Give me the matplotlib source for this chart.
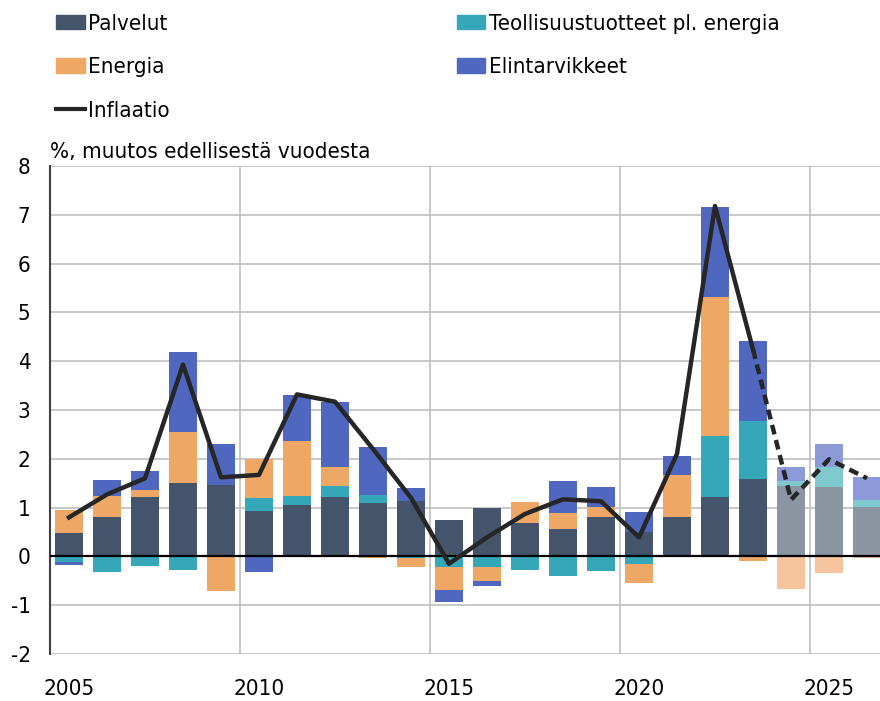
import numpy as np
import matplotlib
matplotlib.use("Agg")
import matplotlib.pyplot as plt
from matplotlib.patches import Patch
from matplotlib.lines import Line2D

plt.rcParams['font.family'] = ['DejaVu Sans']
plt.rcParams['font.stretch'] = 'condensed'
plt.rcParams['axes.unicode_minus'] = False

# ── data ────────────────────────────────────────────────────────
years = np.arange(2005, 2027)
palvelut = [0.47, 0.81, 1.22, 1.51, 1.47, 0.93, 1.06, 1.21, 1.10, 1.14, 0.74,
            0.99, 0.68, 0.57, 0.80, 0.50, 0.80, 1.21, 1.59, 1.45, 1.42, 1.01]
teollisuus = [-0.12, -0.31, -0.20, -0.27, 0.00, 0.26, 0.17, 0.23, 0.16, -0.03, -0.21,
              -0.21, -0.27, -0.40, -0.29, -0.16, 0.00, 1.26, 1.19, 0.10, 0.41, 0.14]
energia = [0.48, 0.43, 0.14, 1.04, -0.70, 0.80, 1.13, 0.39, -0.04, -0.19, -0.47,
           -0.29, 0.44, 0.32, 0.22, -0.38, 0.87, 2.84, -0.10, -0.66, -0.34, -0.04]
elintarvikkeet = [-0.05, 0.33, 0.39, 1.64, 0.83, -0.32, 0.95, 1.33, 0.98, 0.26, -0.25,
                  -0.11, 0.00, 0.66, 0.41, 0.42, 0.38, 1.85, 1.64, 0.29, 0.47, 0.47]
inflaatio = [0.80, 1.27, 1.60, 3.93, 1.62, 1.67, 3.32, 3.17, 2.20, 1.20, -0.15,
             0.39, 0.87, 1.17, 1.13, 0.39, 2.10, 7.18, 4.24, 1.16, 1.99, 1.60]
first_forecast = 2024

labels = ["Palvelut", "Teollisuustuotteet pl. energia", "Energia", "Elintarvikkeet"]
colours = ["#44546A", "#35A7B8", "#EEA765", "#4F67BE"]
light = ["#8C95A2", "#80CACF", "#F6C49C", "#8C9AD7"]

# ── figure ──────────────────────────────────────────────────────
fig = plt.figure(figsize=(8.8, 7.01), dpi=100)
ax = fig.add_axes([50 / 880, 47 / 701, 836 / 880, 488 / 701])

series = [palvelut, teollisuus, energia, elintarvikkeet]
pos_base = np.zeros(len(years))
neg_base = np.zeros(len(years))
fc = years >= first_forecast
for vals, c, lc in zip(series, colours, light):
    v = np.array(vals)
    base = np.where(v >= 0, pos_base, neg_base)
    cols = [lc if f else c for f in fc]
    ax.bar(years, v, bottom=base, width=0.73, color=cols, linewidth=0, zorder=3)
    pos_base += np.clip(v, 0, None)
    neg_base += np.clip(v, None, 0)

infl = np.array(inflaatio)
solid = years <= 2023
dashed = years >= 2023
ax.plot(years[solid], infl[solid], color="#262626", lw=3.2, zorder=5,
        solid_joinstyle="round")
ax.plot(years[dashed], infl[dashed], color="#262626", lw=3.2, zorder=5,
        ls=(0, (2.2, 1.3)))

ax.axhline(0, color="black", lw=1.6, zorder=4)
ax.set_xlim(2004.5, 2026.5)
ax.set_ylim(-2, 8)
ax.set_yticks(range(-2, 9))
ax.set_xticks([2005, 2010, 2015, 2020, 2025])
for y in range(-2, 9):
    ax.axhline(y, color="#BFBFBF", lw=1.2, zorder=1)
for x in [2009.5, 2014.5, 2019.5, 2024.5]:
    ax.axvline(x, color="#BFBFBF", lw=1.2, zorder=1)

for s in ["top", "right", "bottom"]:
    ax.spines[s].set_visible(False)
ax.spines["left"].set_color("#404040")
ax.spines["left"].set_linewidth(1.5)
ax.tick_params(length=0, labelsize=16, pad=14)
ax.tick_params(axis="x", pad=18)

fig.text(50 / 880, 1 - 152 / 701, "%, muutos edellisestä vuodesta", fontsize=16,
         va="center", ha="left")

handles = [Patch(color=colours[0]), Patch(color=colours[2]),
           Line2D([], [], color="#262626", lw=3),
           Patch(color=colours[1]), Patch(color=colours[3])]
names = [labels[0], labels[2], "Inflaatio", labels[1], labels[3]]
fig.legend(handles, names, ncol=2, loc="upper left",
           bbox_to_anchor=(36 / 880, 1 + 6 / 701), frameon=False, fontsize=16,
           handlelength=1.3, handleheight=0.6, handletextpad=0.15,
           columnspacing=12.9, labelspacing=1.05)

fig.savefig("out.png", dpi=100)
